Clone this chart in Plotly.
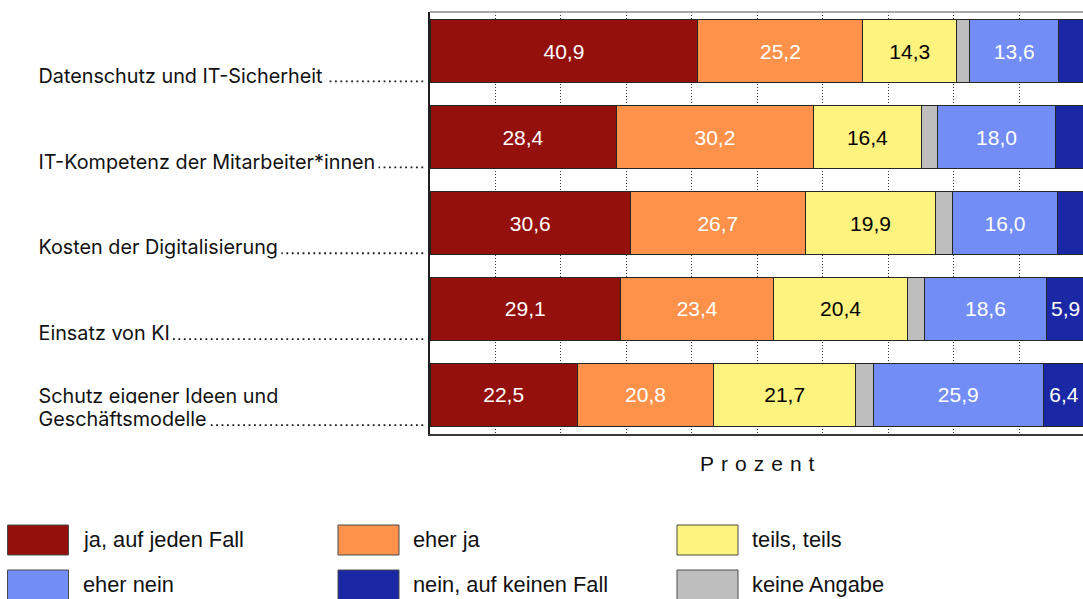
import plotly.graph_objects as go

# ---------------- data ----------------
categories = [
    "Datenschutz und IT-Sicherheit",
    "IT-Kompetenz der Mitarbeiter*innen",
    "Kosten der Digitalisierung",
    "Einsatz von KI",
    "Schutz eigener Ideen und<br>Geschäftsmodelle",
]
series_names = ["ja, auf jeden Fall", "eher ja", "teils, teils",
                "keine Angabe", "eher nein", "nein, auf keinen Fall"]
ja_auf_jeden_fall = [40.9, 28.4, 30.6, 29.1, 22.5]
eher_ja = [25.2, 30.2, 26.7, 23.4, 20.8]
teils_teils = [14.3, 16.4, 19.9, 20.4, 21.7]
keine_angabe = [2.0, 2.5, 2.6, 2.6, 2.7]
eher_nein = [13.6, 18.0, 16.0, 18.6, 25.9]
nein_auf_keinen_fall = [4.0, 4.5, 4.2, 5.9, 6.4]
axis_title = "Prozent"

series_values = [ja_auf_jeden_fall, eher_ja, teils_teils, keine_angabe,
                 eher_nein, nein_auf_keinen_fall]
colors = ["#94100C", "#FF924A", "#FFF380", "#BEBEBE", "#738DF7", "#1A28A6"]
text_colors = ["white", "white", "black", "black", "white", "white"]

W, H = 1083, 599
PL, PR, PT, PB = 430, 0, 12, 165
plot_w = W - PL - PR
plot_h = H - PT - PB


def px_x(px):
    return (px - PL) / plot_w


def px_y(py):
    return (H - PB - py) / plot_h


LABEL_FONT = "Inter, Liberation Sans, Arial, sans-serif"
NUM_FONT = "Liberation Sans, Arial, Helvetica, sans-serif"

fig = go.Figure()
for name, vals, col, tc in zip(series_names, series_values, colors, text_colors):
    txt = [(f"{v:.1f}".replace(".", ",") if (v >= 5) else "") for v in vals]
    fig.add_trace(go.Bar(
        y=categories, x=vals, name=name, orientation="h",
        marker=dict(color=col, line=dict(color="#262626", width=1)),
        text=txt, textposition="inside", insidetextanchor="middle",
        textangle=0,
        textfont=dict(color=tc, size=21, family=NUM_FONT),
        hoverinfo="skip", showlegend=False,
    ))

n = len(categories)
fig.update_layout(
    width=W, height=H,
    margin=dict(l=PL, r=PR, t=PT, b=PB, pad=0),
    barmode="stack", bargap=0.267,
    plot_bgcolor="white", paper_bgcolor="white",
    xaxis=dict(range=[0, 99.7], dtick=10, tick0=0, showticklabels=False,
               ticks="", showgrid=True, gridcolor="#333333",
               griddash="1px,2px", gridwidth=1, zeroline=False,
               showline=True, linecolor="#3a3a3a", linewidth=1.5),
    yaxis=dict(range=[n - 1 + 0.455, -0.455], showticklabels=False,
               ticks="", showgrid=False, zeroline=False,
               showline=True, linecolor="#1e1e1e", linewidth=1.5),
)

shapes = []
annotations = []
# top frame line
shapes.append(dict(type="line", xref="paper", yref="paper", x0=0, x1=1,
                   y0=1, y1=1, line=dict(color="#8a8a8a", width=1.5)))

# category labels with dotted leaders
for i, lab in enumerate(categories):
    lines = lab.split("<br>")
    base = i + 0.366
    shapes.append(dict(type="line", xref="paper", yref="y",
                       x0=px_x(38), x1=px_x(425), y0=base - 0.014,
                       y1=base - 0.014,
                       line=dict(color="#1a1a1a", width=1.8, dash="1.8px,3.6px")))
    for k, ln in enumerate(lines):
        last = (k == len(lines) - 1)
        shift = -8 + 23 * (len(lines) - 1 - k)
        annotations.append(dict(
            xref="paper", yref="y", x=px_x(34.5), y=base, xanchor="left",
            yanchor="bottom", yshift=shift, text=ln, showarrow=False,
            bgcolor="white" if last else "rgba(0,0,0,0)", borderpad=2.5,
            font=dict(family=LABEL_FONT, size=19.8, color="#111111"),
        ))

# axis title
annotations.append(dict(
    xref="paper", yref="paper", x=px_x(757.5), y=px_y(463),
    xanchor="center", yanchor="middle", showarrow=False,
    text="\u2004".join(list(axis_title)),
    font=dict(family=NUM_FONT, size=21, color="#111111"),
))

# manual legend
legend_order = [0, 1, 2, 4, 5, 3]
col_x = [7.5, 338, 677]
row_y = [525, 570]
for j, si in enumerate(legend_order):
    r, c = divmod(j, 3)
    x0 = col_x[c]
    y0 = row_y[r]
    shapes.append(dict(type="rect", xref="paper", yref="paper",
                       x0=px_x(x0), x1=px_x(x0 + 61),
                       y0=px_y(y0 + 30), y1=px_y(y0),
                       fillcolor=colors[si],
                       line=dict(color="#4a4a4a", width=1)))
    annotations.append(dict(
        xref="paper", yref="paper", x=px_x(x0 + 73), y=px_y(y0 + 14.5),
        xanchor="left", yanchor="middle", showarrow=False,
        text=series_names[si],
        font=dict(family=NUM_FONT, size=21.8, color="#111111"),
    ))

fig.update_layout(shapes=shapes, annotations=annotations)

fig.write_html(
    "out.html",
    config={"displayModeBar": False},
    post_script="document.body.style.margin='0';document.body.style.overflow='hidden';",
)
